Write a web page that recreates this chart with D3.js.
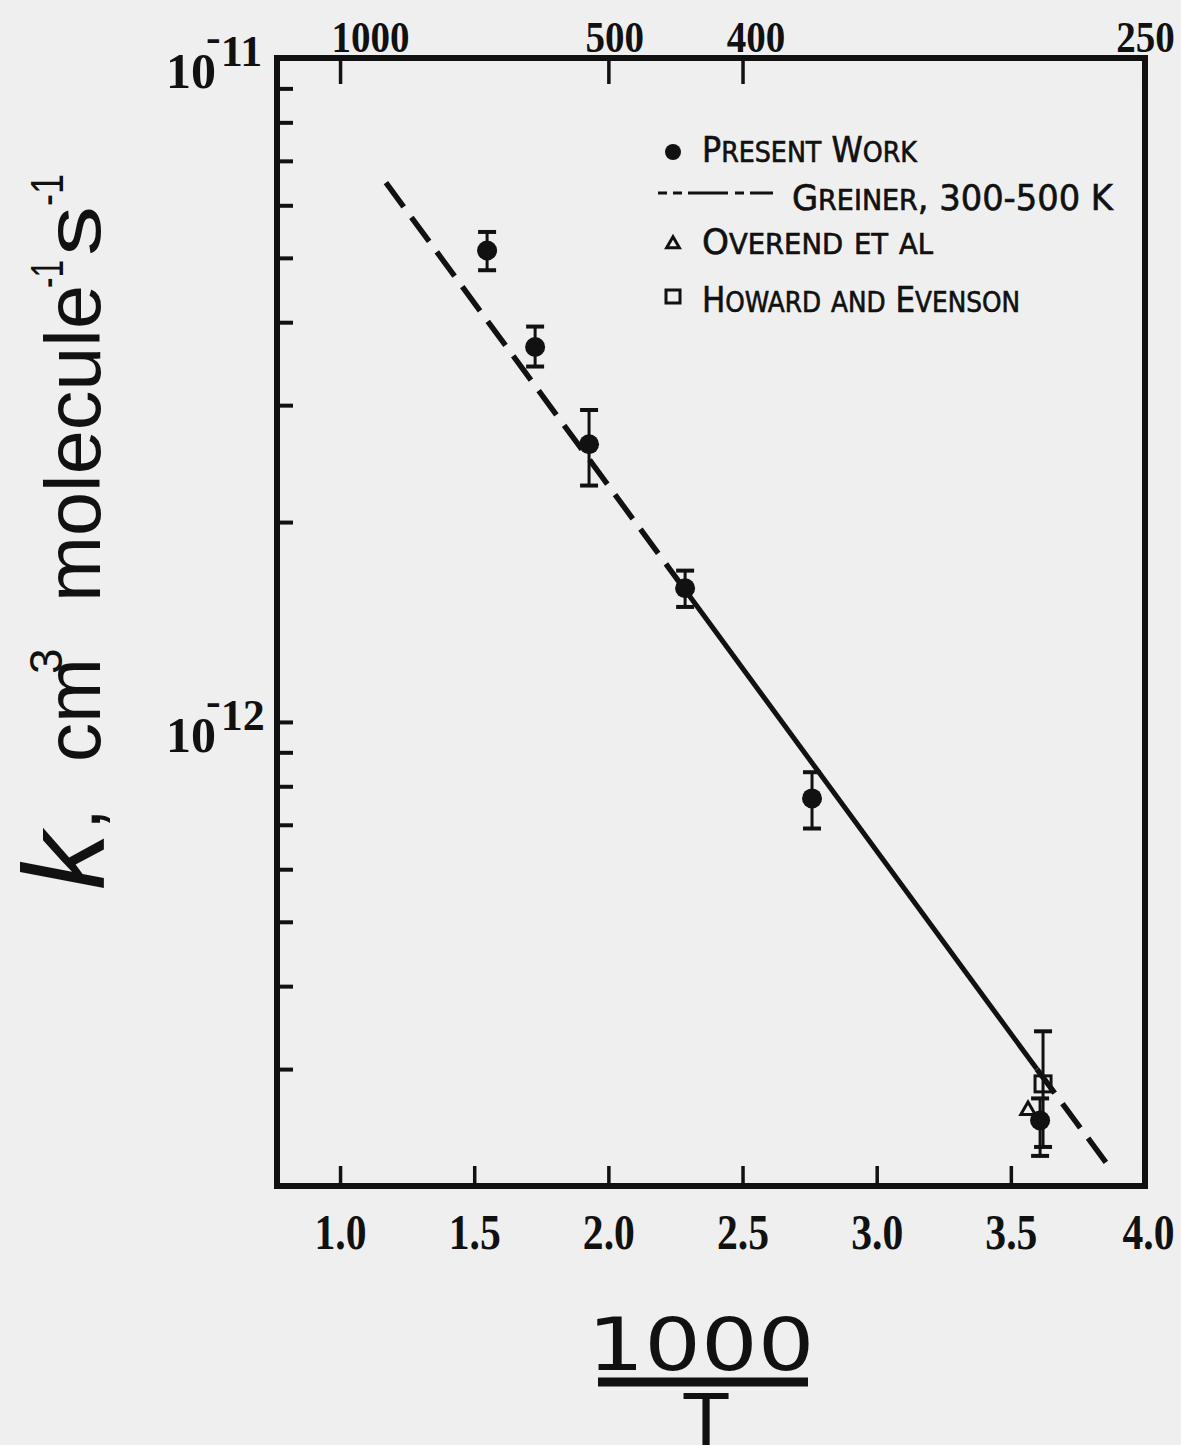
<!DOCTYPE html>
<html>
<head>
<meta charset="utf-8">
<script src="https://cdn.jsdelivr.net/npm/d3@7"></script>
<style>
  body { margin: 0; background: #efefef; }
  svg { display: block; }
</style>
</head>
<body>
<script>
// ---- data ----
// 1000/T and k (cm3 molecule-1 s-1)
var presentX  = [1.548, 1.727, 1.928, 2.286, 2.759, 3.609];
var presentK  = [5.13e-12, 3.67e-12, 2.62e-12, 1.59e-12, 7.67e-13, 2.51e-13];
var presentHi = [5.47e-12, 3.94e-12, 2.95e-12, 1.69e-12, 8.40e-13, 2.71e-13];
var presentLo = [4.79e-12, 3.43e-12, 2.27e-12, 1.49e-12, 6.91e-13, 2.22e-13];

var overendX = [3.564];
var overendK = [2.60e-13];

var howardX  = [3.620];
var howardK  = [2.85e-13];
var howardHi = [3.42e-13];
var howardLo = [2.29e-13];

// Greiner line, broken into dashed / solid / dashed pieces
var greinerX = [1.171, 2.286, 3.597, 3.862];
var greinerK = [6.49e-12, 1.58e-12, 3.00e-13, 2.15e-13];
var greinerSeg = ['dash', 'solid', 'dash'];

var xTicks = [1.0, 1.5, 2.0, 2.5, 3.0, 3.5, 4.0];
var topT   = [1000, 500, 400, 250];
var kMinor = [3e-13, 4e-13, 5e-13, 6e-13, 7e-13, 8e-13, 9e-13, 1e-12,
              2e-12, 3e-12, 4e-12, 5e-12, 6e-12, 7e-12, 8e-12, 9e-12];
var kDecade = [1e-11, 1e-12];
var kDecadeExp = ['11', '12'];

// legend: upper case = full cap, lower case = small cap
var legendText = ['Present Work', 'Greiner, 300-500 K', 'Overend et al', 'Howard and Evenson'];

var width = 1181, height = 1445;
var ink = '#111';
var serif = '"Liberation Serif", "DejaVu Serif", serif';
var narrow = '"DejaVu Sans Condensed", "Liberation Sans Narrow", "Liberation Sans", sans-serif';

var svg = d3.select('body').append('svg').attr('width', width).attr('height', height);
svg.append('rect').attr('width', width).attr('height', height).attr('fill', '#efefef');

var x = d3.scaleLinear().domain([0.765, 4.0]).range([277, 1145]);
var y = d3.scaleLog().domain([2e-13, 1e-11]).range([1186, 58]);

// frame
svg.append('rect')
  .attr('x', x.range()[0]).attr('y', y.range()[1])
  .attr('width', x.range()[1] - x.range()[0])
  .attr('height', y.range()[0] - y.range()[1])
  .attr('fill', 'none').attr('stroke', ink).attr('stroke-width', 6);

// left ticks
var gl = svg.append('g').attr('transform', 'translate(' + x.range()[0] + ',0)')
  .call(d3.axisLeft(y).tickValues(kMinor).tickSize(-16).tickFormat(''));
gl.select('.domain').remove();
gl.selectAll('line').attr('stroke', ink).attr('stroke-width', 4);

// decade labels, minus sign sits over the top of the 0
kDecade.forEach(function(k, i) {
  var t = y(k);
  var s = svg.append('text')
    .attr('x', 166).attr('y', t + 30)
    .attr('font-family', serif).attr('font-weight', 'bold')
    .attr('fill', ink);
  s.append('tspan').attr('font-size', 50).text('10');
  s.append('tspan').attr('font-size', 44).attr('dx', -10).attr('dy', -36).text('-');
  s.append('tspan').attr('font-size', 44).attr('dy', 14).text(kDecadeExp[i]);
});

// bottom axis
var gb = svg.append('g').attr('transform', 'translate(0,' + y.range()[0] + ')')
  .call(d3.axisBottom(x).tickValues(xTicks).tickSize(-20).tickPadding(27).tickFormat(d3.format('.1f')));
gb.select('.domain').remove();
gb.selectAll('line').attr('stroke', ink).attr('stroke-width', 3.5);
gb.selectAll('text')
  .attr('font-family', serif).attr('font-weight', 'bold').attr('font-size', 50)
  .attr('fill', ink)
  .attr('dx', function(d) { return d == 4 ? 3 : 0; })
  .attr('textLength', 52).attr('lengthAdjust', 'spacingAndGlyphs');

// top axis (temperature)
var topDx = [30, 6, 13, 0];
var gt = svg.append('g').attr('transform', 'translate(0,' + y.range()[1] + ')')
  .call(d3.axisTop(x).tickValues(topT.map(function(t) { return 1000 / t; }))
    .tickSize(-26).tickPadding(6)
    .tickFormat(function(d, i) { return topT[i]; }));
gt.select('.domain').remove();
gt.selectAll('line').attr('stroke', ink).attr('stroke-width', 3.5);
gt.selectAll('text')
  .attr('font-family', serif).attr('font-weight', 'bold').attr('font-size', 44)
  .attr('fill', ink).attr('dx', function(d, i) { return topDx[i]; })
  .attr('textLength', function(d, i) { return String(topT[i]).length * 19.5; })
  .attr('lengthAdjust', 'spacingAndGlyphs');

// Greiner line
var line = d3.line().x(function(d) { return x(d[0]); }).y(function(d) { return y(d[1]); });
greinerSeg.forEach(function(style, i) {
  svg.append('path')
    .attr('d', line([[greinerX[i], greinerK[i]], [greinerX[i + 1], greinerK[i + 1]]]))
    .attr('fill', 'none').attr('stroke', ink)
    .attr('stroke-width', style == 'dash' ? 5.5 : 5)
    .attr('stroke-dasharray', style == 'dash' ? '30,13' : null);
});

// error bars
function errorBar(px, lo, hi) {
  var g = svg.append('g').attr('stroke', ink);
  g.append('line').attr('x1', x(px)).attr('x2', x(px)).attr('y1', y(hi)).attr('y2', y(lo)).attr('stroke-width', 3);
  [lo, hi].forEach(function(v) {
    g.append('line').attr('x1', x(px) - 9).attr('x2', x(px) + 9).attr('y1', y(v)).attr('y2', y(v)).attr('stroke-width', 4);
  });
}
presentX.forEach(function(d, i) { errorBar(d, presentLo[i], presentHi[i]); });
howardX.forEach(function(d, i) { errorBar(d, howardLo[i], howardHi[i]); });

// markers
var tri = d3.symbol().type(d3.symbolTriangle);
svg.selectAll('.ov').data(overendX).enter().append('path')
  .attr('transform', function(d, i) { return 'translate(' + x(d) + ',' + y(overendK[i]) + ')'; })
  .attr('d', tri.size(90)).attr('fill', 'none').attr('stroke', ink).attr('stroke-width', 3);
svg.selectAll('.hw').data(howardX).enter().append('rect')
  .attr('x', function(d) { return x(d) - 8; })
  .attr('y', function(d, i) { return y(howardK[i]) - 8; })
  .attr('width', 16).attr('height', 16)
  .attr('fill', 'none').attr('stroke', ink).attr('stroke-width', 3);
svg.selectAll('.pw').data(presentX).enter().append('circle')
  .attr('cx', function(d) { return x(d); })
  .attr('cy', function(d, i) { return y(presentK[i]); })
  .attr('r', 10).attr('fill', ink);

// legend
var legY = [162, 210, 254, 312];
var legX = [702, 792, 702, 702];
var legW = [215, 321, 231, 318];
legendText.forEach(function(s, i) {
  var t = svg.append('text').attr('x', legX[i]).attr('y', legY[i])
    .attr('font-family', narrow).attr('fill', ink)
    .attr('stroke', ink).attr('stroke-width', 0.6)
    .attr('textLength', legW[i]).attr('lengthAdjust', 'spacingAndGlyphs');
  s.split('').forEach(function(c) {
    var small = c != c.toUpperCase();
    t.append('tspan').attr('font-size', small ? 28 : 35).text(c.toUpperCase());
  });
});
svg.append('circle').attr('cx', 673).attr('cy', 152).attr('r', 8).attr('fill', ink);
svg.append('line').attr('x1', 658).attr('x2', 773).attr('y1', 193).attr('y2', 193)
  .attr('stroke', ink).attr('stroke-width', 3).attr('stroke-dasharray', '9,6,9,6,40,7,9,6,23');
svg.append('path').attr('transform', 'translate(673,244)').attr('d', tri.size(70)())
  .attr('fill', 'none').attr('stroke', ink).attr('stroke-width', 3);
svg.append('rect').attr('x', 666).attr('y', 290).attr('width', 14).attr('height', 13)
  .attr('fill', 'none').attr('stroke', ink).attr('stroke-width', 3);

// y axis title, rotated pieces
var sans = '"Liberation Sans", Arial, sans-serif';
var yTitle = [
  { t: 'k', size: 115, italic: true, bx: 104, by: 890 },
  { t: ',', size: 78, bx: 100, by: 830 },
  { t: 'cm', size: 78, bx: 100, by: 762, len: 104 },
  { t: '3', size: 46, bx: 62, by: 674 },
  { t: 'molecule', size: 78, bx: 100, by: 602, len: 317 },
  { t: '-1', size: 46, bx: 63, by: 288, len: 28 },
  { t: 's', size: 78, bx: 100, by: 256, len: 50 },
  { t: '-1', size: 46, bx: 63, by: 206, len: 32 }
];
yTitle.forEach(function(p) {
  var t = svg.append('text')
    .attr('transform', 'translate(' + p.bx + ',' + p.by + ') rotate(-90)')
    .attr('font-family', sans).attr('font-size', p.size).attr('fill', ink)
    .attr('font-style', p.italic ? 'italic' : null)
    .text(p.t);
  if (p.len) t.attr('textLength', p.len).attr('lengthAdjust', 'spacingAndGlyphs');
});

// x axis title 1000 / T
var rounded = '"DejaVu Sans", sans-serif';
svg.append('text').attr('x', 701).attr('y', 1370).attr('text-anchor', 'middle')
  .attr('font-family', rounded).attr('font-size', 73).attr('fill', ink)
  .attr('textLength', 227).attr('lengthAdjust', 'spacingAndGlyphs').text('1000');
svg.append('line').attr('x1', 598).attr('x2', 808).attr('y1', 1382).attr('y2', 1382)
  .attr('stroke', ink).attr('stroke-width', 9);
svg.append('text').attr('x', 706).attr('y', 1446).attr('text-anchor', 'middle')
  .attr('font-family', rounded).attr('font-size', 73).attr('fill', ink).text('T');
</script>
</body>
</html>
